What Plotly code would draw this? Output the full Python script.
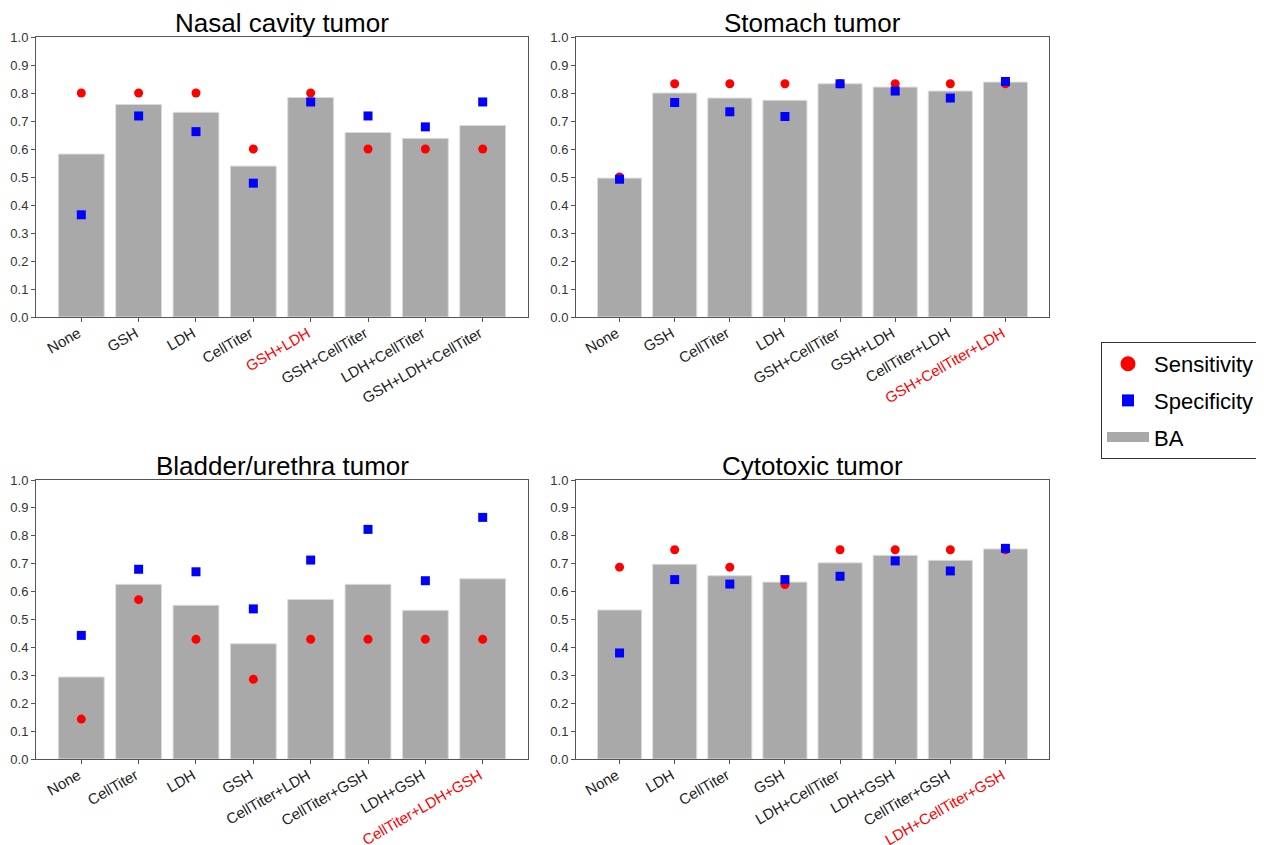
import plotly.graph_objects as go

# ---------------- data ----------------
nasal_cats = ["None", "GSH", "LDH", "CellTiter", "GSH+LDH", "GSH+CellTiter", "LDH+CellTiter", "GSH+LDH+CellTiter"]
nasal_ba = [0.582, 0.759, 0.731, 0.539, 0.784, 0.659, 0.638, 0.684]
nasal_sens = [0.8, 0.8, 0.8, 0.6, 0.8, 0.6, 0.6, 0.6]
nasal_spec = [0.365, 0.718, 0.662, 0.478, 0.768, 0.718, 0.679, 0.768]
nasal_best = "GSH+LDH"

stomach_cats = ["None", "GSH", "CellTiter", "LDH", "GSH+CellTiter", "GSH+LDH", "CellTiter+LDH", "GSH+CellTiter+LDH"]
stomach_ba = [0.496, 0.800, 0.782, 0.774, 0.833, 0.821, 0.807, 0.839]
stomach_sens = [0.5, 0.833, 0.833, 0.833, 0.833, 0.833, 0.833, 0.833]
stomach_spec = [0.492, 0.766, 0.733, 0.716, 0.833, 0.807, 0.782, 0.841]
stomach_best = "GSH+CellTiter+LDH"

bladder_cats = ["None", "CellTiter", "LDH", "GSH", "CellTiter+LDH", "CellTiter+GSH", "LDH+GSH", "CellTiter+LDH+GSH"]
bladder_ba = [0.294, 0.626, 0.551, 0.413, 0.572, 0.626, 0.533, 0.646]
bladder_sens = [0.143, 0.571, 0.429, 0.286, 0.429, 0.429, 0.429, 0.429]
bladder_spec = [0.443, 0.680, 0.671, 0.538, 0.713, 0.823, 0.639, 0.866]
bladder_best = "CellTiter+LDH+GSH"

cyto_cats = ["None", "LDH", "CellTiter", "GSH", "LDH+CellTiter", "LDH+GSH", "CellTiter+GSH", "LDH+CellTiter+GSH"]
cyto_ba = [0.534, 0.698, 0.657, 0.634, 0.703, 0.730, 0.712, 0.753]
cyto_sens = [0.6875, 0.75, 0.6875, 0.625, 0.75, 0.75, 0.75, 0.75]
cyto_spec = [0.380, 0.643, 0.627, 0.643, 0.655, 0.710, 0.674, 0.755]
cyto_best = "LDH+CellTiter+GSH"

titles = ["Nasal cavity tumor", "Stomach tumor", "Bladder/urethra tumor", "Cytotoxic tumor"]
y_ticks = [i / 10 for i in range(11)]

panels = [
    (nasal_cats, nasal_ba, nasal_sens, nasal_spec, nasal_best),
    (stomach_cats, stomach_ba, stomach_sens, stomach_spec, stomach_best),
    (bladder_cats, bladder_ba, bladder_sens, bladder_spec, bladder_best),
    (cyto_cats, cyto_ba, cyto_sens, cyto_spec, cyto_best),
]

# ---------------- layout geometry ----------------
# page body has an 8px margin, so the figure is offset by 8px
OFF = 8
W, H = 1264 - OFF, 845 - OFF


def px_x(v):
    return (v - OFF) / W


def px_y(v):
    return 1 - (v - OFF) / H


x_doms = [(px_x(36), px_x(528)), (px_x(576), px_x(1049))]
y_doms = [(px_y(317), px_y(37)), (px_y(759), px_y(480))]

FONT = "Liberation Sans, Arial, sans-serif"
RED, BLUE, GREY = "#ff0000", "#0000ff", "#a9a9a9"

fig = go.Figure()
layout = dict(
    template="none",
    width=W, height=H,
    margin=dict(l=0, r=0, t=0, b=0, autoexpand=False),
    paper_bgcolor="white", plot_bgcolor="white",
    font=dict(family=FONT, color="#222"),
    showlegend=True,
    legend=dict(
        x=px_x(1101), y=px_y(342), xanchor="left", yanchor="top",
        bordercolor="#333", borderwidth=1, bgcolor="white",
        font=dict(size=22, color="black", family=FONT),
        tracegroupgap=5, itemwidth=42,
    ),
    annotations=[],
)

# legend-only entries (bigger symbols, wide bar swatch)
fig.add_trace(go.Scatter(x=[None], y=[None], mode="markers", name="Sensitivity",
                         marker=dict(symbol="circle", size=15, color=RED),
                         legendgroup="sens", legendrank=1))
fig.add_trace(go.Scatter(x=[None], y=[None], mode="markers", name="Specificity",
                         marker=dict(symbol="square", size=12, color=BLUE),
                         legendgroup="spec", legendrank=2))
fig.add_trace(go.Scatter(x=[None], y=[None], mode="lines", name="BA",
                         line=dict(color=GREY, width=11),
                         legendgroup="ba", legendrank=3))

for i, (cats, ba, sens, spec, best) in enumerate(panels):
    row, col = divmod(i, 2)
    n = i + 1
    xa = "x" if n == 1 else f"x{n}"
    ya = "y" if n == 1 else f"y{n}"
    xs = list(range(len(cats)))
    fig.add_trace(go.Bar(
        x=xs, y=ba, name="BA", width=0.8,
        marker=dict(color=GREY, line=dict(color="#dcdcdc", width=1)),
        xaxis=xa, yaxis=ya, showlegend=False,
    ))
    fig.add_trace(go.Scatter(
        x=xs, y=sens, mode="markers", name="Sensitivity",
        marker=dict(symbol="circle", size=9, color=RED),
        xaxis=xa, yaxis=ya, showlegend=False,
    ))
    fig.add_trace(go.Scatter(
        x=xs, y=spec, mode="markers", name="Specificity",
        marker=dict(symbol="square", size=9, color=BLUE),
        xaxis=xa, yaxis=ya, showlegend=False,
    ))
    ticktext = [f'<span style="color:{RED}">{c}</span>' if c == best else c for c in cats]
    xkey = "xaxis" if n == 1 else f"xaxis{n}"
    ykey = "yaxis" if n == 1 else f"yaxis{n}"
    layout[xkey] = dict(
        domain=list(x_doms[col]), anchor=ya, range=[-0.79, 7.79],
        tickvals=xs, ticktext=ticktext, tickangle=-30,
        tickfont=dict(size=15, color="#222", family=FONT),
        ticks="outside", ticklen=4, tickcolor="#555",
        ticklabelstandoff=-3, ticklabelshift=-3,
        showline=True, linecolor="#555", linewidth=1, mirror=True,
        showgrid=False, zeroline=False, fixedrange=True, automargin=False,
    )
    layout[ykey] = dict(
        domain=list(y_doms[row]), anchor=xa, range=[0, 1],
        tickvals=y_ticks, tickformat=".1f",
        tickfont=dict(size=13, color="#333", family=FONT),
        ticks="outside", ticklen=4, tickcolor="#555",
        showline=True, linecolor="#555", linewidth=1, mirror=True,
        showgrid=False, zeroline=False, fixedrange=True, automargin=False,
    )
    layout["annotations"].append(dict(
        text=titles[i], showarrow=False,
        x=(x_doms[col][0] + x_doms[col][1]) / 2, xref="paper", xanchor="center",
        y=y_doms[row][1], yref="paper", yanchor="bottom", yshift=-3,
        font=dict(size=26, color="black", family=FONT),
    ))

fig.update_layout(**layout)
fig.write_html("out.html")
